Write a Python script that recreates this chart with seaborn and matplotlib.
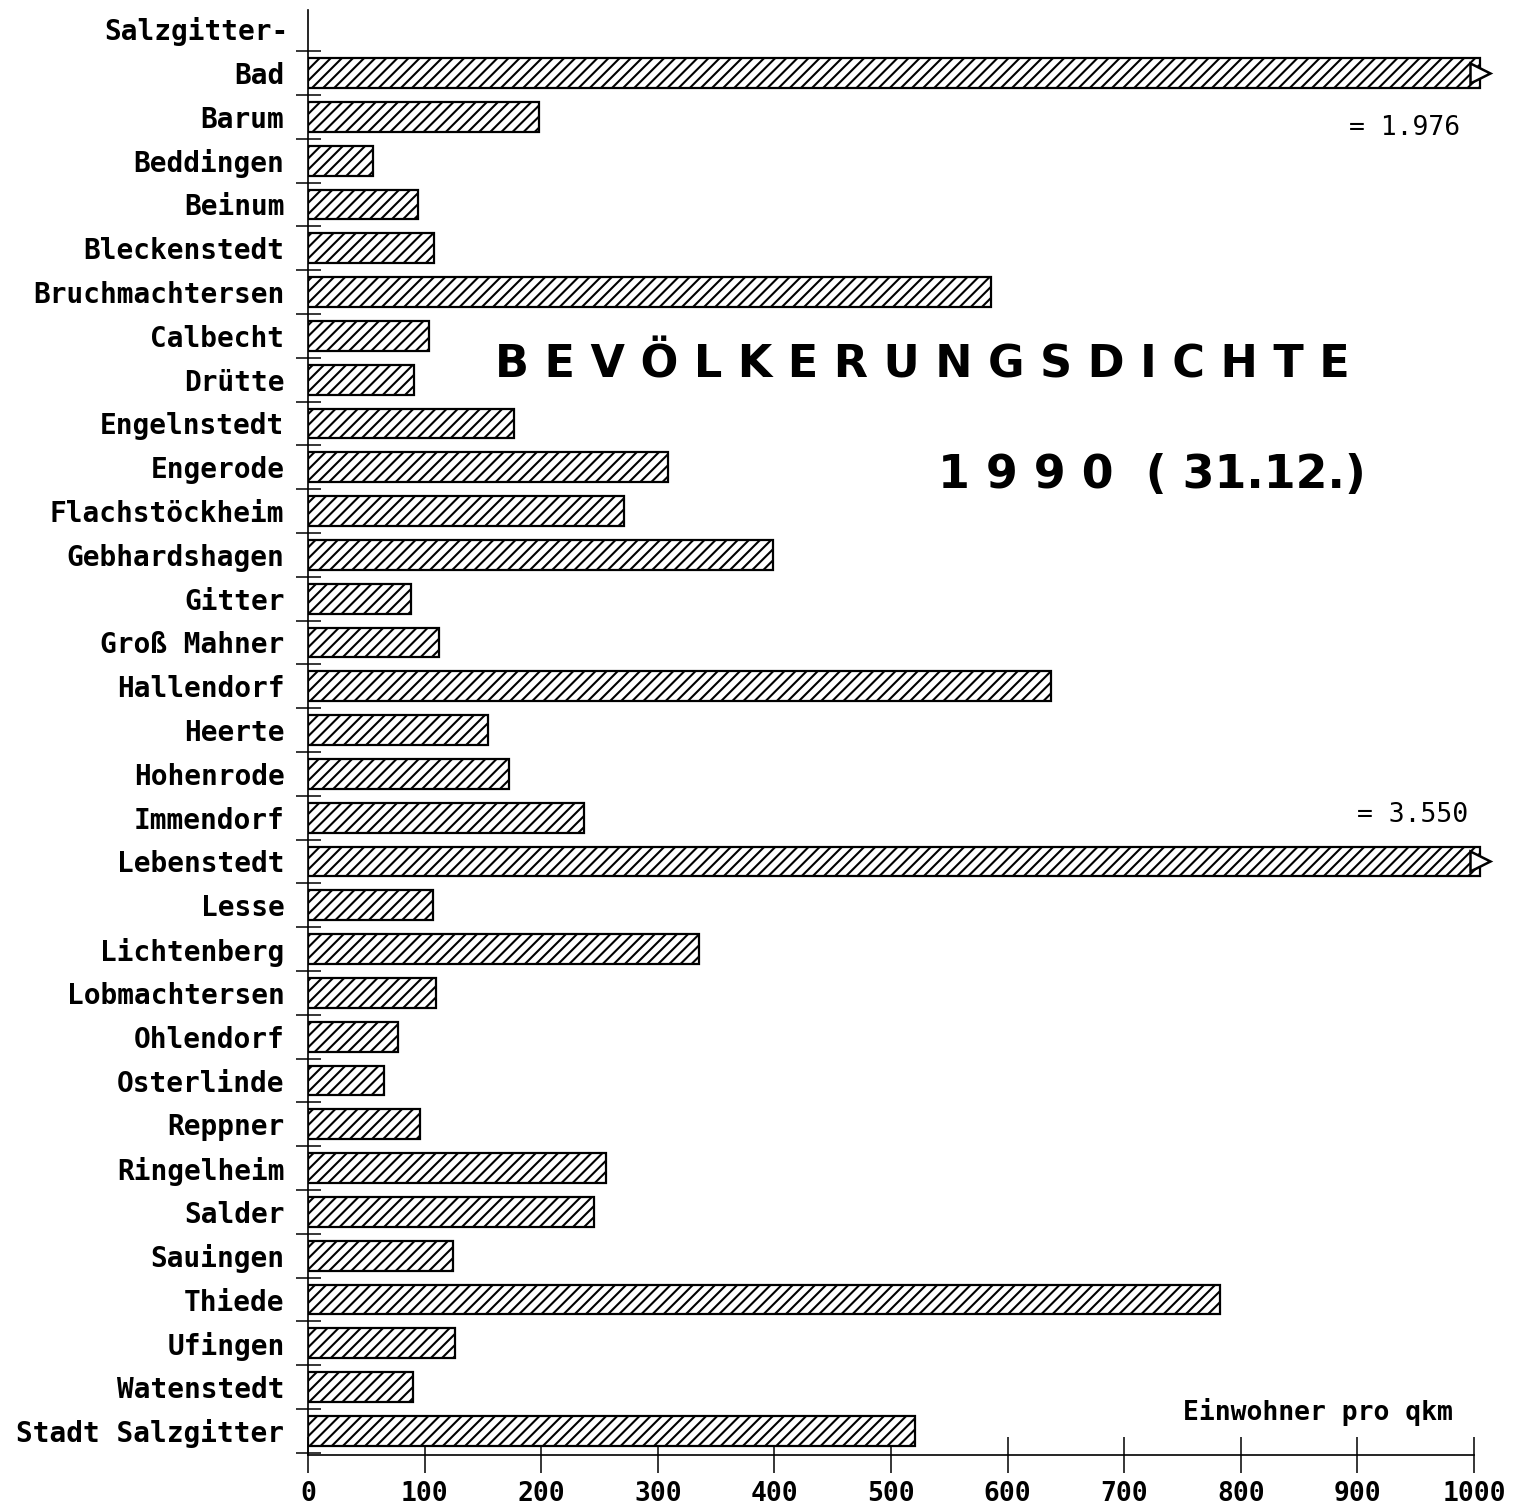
import numpy as np
import pandas as pd
import matplotlib
matplotlib.use('Agg')
import matplotlib.pyplot as plt
import seaborn as sns

# Bevoelkerungsdichte der Stadtteile von Salzgitter, 31.12.1990 (Einwohner pro qkm)
orte = ['Bad', 'Barum', 'Beddingen', 'Beinum', 'Bleckenstedt', 'Bruchmachtersen',
        'Calbecht', 'Drütte', 'Engelnstedt', 'Engerode', 'Flachstöckheim',
        'Gebhardshagen', 'Gitter', 'Groß Mahner', 'Hallendorf', 'Heerte',
        'Hohenrode', 'Immendorf', 'Lebenstedt', 'Lesse', 'Lichtenberg',
        'Lobmachtersen', 'Ohlendorf', 'Osterlinde', 'Reppner', 'Ringelheim',
        'Salder', 'Sauingen', 'Thiede', 'Ufingen', 'Watenstedt', 'Stadt Salzgitter']
dichte = [1976, 198, 56, 94, 108, 586, 104, 91, 177, 309, 271, 399, 88, 112,
          637, 154, 172, 237, 3550, 107, 335, 110, 77, 65, 96, 256, 245, 124,
          782, 126, 90, 521]
xticks = [0, 100, 200, 300, 400, 500, 600, 700, 800, 900, 1000]
grenze = 1005  # bars longer than the axis get cut here with an arrow tip

df = pd.DataFrame({'ort': orte, 'dichte': dichte})
df['anzeige'] = np.minimum(df['dichte'], grenze)

sns.set_style('ticks', {'text.color': 'black', 'axes.labelcolor': 'black',
                        'xtick.color': 'black', 'ytick.color': 'black',
                        'axes.edgecolor': 'black'})
plt.rcParams['font.family'] = ['DejaVu Sans Mono', 'DejaVu Sans']
plt.rcParams['hatch.linewidth'] = 1.5

fig = plt.figure(figsize=(15.26, 15.08), dpi=100)
ax = fig.add_axes([308/1526, 53/1508, (1491.5-308)/1526, (1455-10)/1508])

sns.barplot(data=df, x='anzeige', y='ort', orient='h', ax=ax, color='white',
            edgecolor='black', linewidth=1.6, hatch='///', width=0.68)

# arrow tips for the cut bars
lang = df.index[df['dichte'] > grenze]
ax.plot(df.loc[lang, 'anzeige'], lang, ls='none', marker='>', markersize=15,
        markerfacecolor='white', markeredgecolor='black', markeredgewidth=1.8,
        clip_on=False, zorder=5)

ax.set_xlim(0, 1015)
ax.set_ylim(len(orte) - 0.45, -1.44)
ax.set_xlabel('')
ax.set_ylabel('')
sns.despine(ax=ax)
ax.spines['bottom'].set_bounds(0, 1000)
ax.spines['left'].set_linewidth(1.2)
ax.spines['bottom'].set_linewidth(1.2)

ax.set_xticks(xticks)
ax.set_xticklabels([str(t) for t in xticks], fontsize=19, fontweight='bold')
ax.tick_params(axis='x', direction='inout', length=26, width=1.1, pad=6)
ax.set_yticks(range(len(orte)))
ax.set_yticklabels(orte, fontsize=20, fontweight='bold')
ax.tick_params(axis='y', which='major', length=0, pad=17)
ax.set_yticks(np.arange(-0.5, len(orte)), minor=True)
ax.tick_params(axis='y', which='minor', direction='inout', length=18, width=1.1)

ax.text(-17, -0.95, 'Salzgitter-', transform=ax.transData, ha='right',
        va='center', fontsize=20, fontweight='bold', clip_on=False)

fig.text(922/1526, 1 - 365/1508, 'B E V Ö L K E R U N G S D I C H T E',
         family='DejaVu Sans', fontsize=32, fontweight='bold', ha='center', va='center')
fig.text(1152/1526, 1 - 475/1508, '1 9 9 0  ( 31.12.)',
         family='DejaVu Sans', fontsize=33, fontweight='bold', ha='center', va='center')
fig.text(1460/1526, 1 - 128/1508, '= 1.976', fontsize=19, ha='right', va='center')
fig.text(1468/1526, 1 - 815/1508, '= 3.550', fontsize=19, ha='right', va='center')
fig.text(1453/1526, 1 - 1412/1508, 'Einwohner pro qkm', fontsize=19,
         fontweight='bold', ha='right', va='center')

fig.savefig('out.png', dpi=100, facecolor='white')
